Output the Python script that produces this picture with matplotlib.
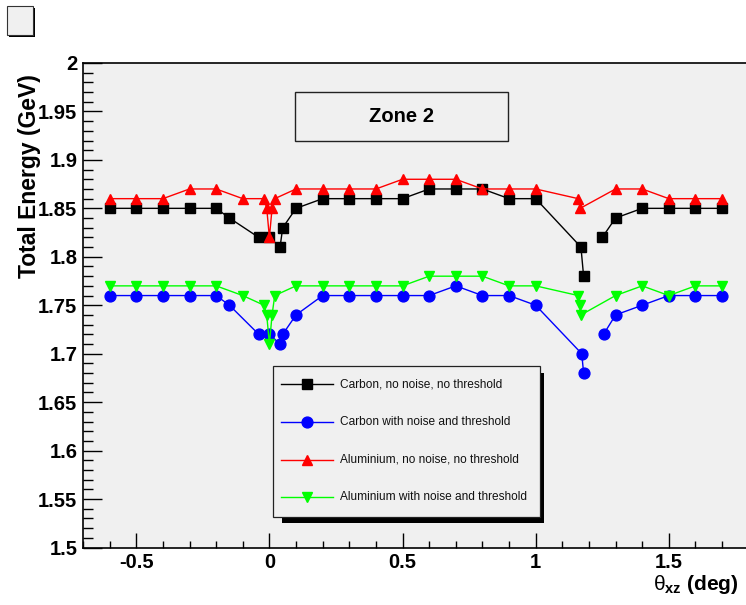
import numpy as np
import matplotlib
matplotlib.use("Agg")
import matplotlib.pyplot as plt
from matplotlib.patches import Rectangle
from matplotlib.lines import Line2D
from matplotlib.ticker import MultipleLocator, FormatStrFormatter

plt.rcParams['font.family'] = ['Liberation Sans', 'DejaVu Sans']
plt.rcParams['mathtext.fontset'] = 'custom'
plt.rcParams['mathtext.rm'] = 'Liberation Sans'
plt.rcParams['mathtext.bf'] = 'Liberation Sans:bold'
plt.rcParams['mathtext.it'] = 'Liberation Sans:italic'

# ---- data ----
carbon_x = [-0.6, -0.5, -0.4, -0.3, -0.2, -0.15, -0.04, 0.0, 0.04, 0.05, 0.1, 0.2, 0.3, 0.4,
            0.5, 0.6, 0.7, 0.8, 0.9, 1.0, 1.17, 1.18, 1.25, 1.3, 1.4, 1.5, 1.6, 1.7]
carbon_y = [1.85, 1.85, 1.85, 1.85, 1.85, 1.84, 1.82, 1.82, 1.81, 1.83, 1.85, 1.86, 1.86, 1.86,
            1.86, 1.87, 1.87, 1.87, 1.86, 1.86, 1.81, 1.78, 1.82, 1.84, 1.85, 1.85, 1.85, 1.85]
carbon_noise_y = [1.76, 1.76, 1.76, 1.76, 1.76, 1.75, 1.72, 1.72, 1.71, 1.72, 1.74, 1.76, 1.76, 1.76,
                  1.76, 1.76, 1.77, 1.76, 1.76, 1.75, 1.70, 1.68, 1.72, 1.74, 1.75, 1.76, 1.76, 1.76]
carbon_noise_x = [-0.6, -0.5, -0.4, -0.3, -0.2, -0.15, -0.04, 0.0, 0.04, 0.05, 0.1, 0.2, 0.3, 0.4,
                  0.5, 0.6, 0.7, 0.8, 0.9, 1.0, 1.173, 1.18, 1.255, 1.3, 1.4, 1.5, 1.6, 1.7]
carbon_gap = 22  # the carbon curves are not joined between 1.18 and 1.25

alu_x = [-0.6, -0.5, -0.4, -0.3, -0.2, -0.1, -0.02, -0.01, 0.0, 0.01, 0.02, 0.1, 0.2, 0.3,
         0.4, 0.5, 0.6, 0.7, 0.8, 0.9, 1.0, 1.16, 1.167, 1.3, 1.4, 1.5, 1.6, 1.7]
alu_y = [1.86, 1.86, 1.86, 1.87, 1.87, 1.86, 1.86, 1.85, 1.82, 1.85, 1.86, 1.87, 1.87, 1.87,
         1.87, 1.88, 1.88, 1.88, 1.87, 1.87, 1.87, 1.86, 1.85, 1.87, 1.87, 1.86, 1.86, 1.86]
alu_noise_x = [-0.6, -0.5, -0.4, -0.3, -0.2, -0.1, -0.02, -0.01, 0.0, 0.01, 0.02, 0.1, 0.2, 0.3,
               0.4, 0.5, 0.6, 0.7, 0.8, 0.9, 1.0, 1.16, 1.165, 1.17, 1.3, 1.4, 1.5, 1.6, 1.7]
alu_noise_y = [1.77, 1.77, 1.77, 1.77, 1.77, 1.76, 1.75, 1.74, 1.71, 1.74, 1.76, 1.77, 1.77, 1.77,
               1.77, 1.77, 1.78, 1.78, 1.78, 1.77, 1.77, 1.76, 1.75, 1.74, 1.76, 1.77, 1.76, 1.77, 1.77]

labels = ["Carbon, no noise, no threshold",
          "Carbon with noise and threshold",
          "Aluminium, no noise, no threshold",
          "Aluminium with noise and threshold"]
colors = ["black", "#0000ff", "#ff0000", "#00ff00"]
markers = ["s", "o", "^", "v"]
msizes = [6.8, 7.8, 7.8, 7.8]

W, H = 746, 605
BG = "#f0f0f0"


def fx(x):
    return x / W


def fy(y):
    return 1 - y / H


fig = plt.figure(figsize=(W / 100, H / 100), dpi=100)
fig.patch.set_facecolor("white")
ax = fig.add_axes([fx(83), fy(547.5), fx(748.7) - fx(83), fy(63) - fy(547.5)])
ax.set_facecolor(BG)

series = [
    (carbon_x, carbon_y, carbon_gap),
    (carbon_noise_x, carbon_noise_y, carbon_gap),
    (alu_x, alu_y, None),
    (alu_noise_x, alu_noise_y, None),
]
for (xs, ys, gap), c, m, ms in zip(series, colors, markers, msizes):
    parts = [(xs, ys)] if gap is None else [(xs[:gap], ys[:gap]), (xs[gap:], ys[gap:])]
    for px, py in parts:
        ax.plot(px, py, color=c, lw=1.0, marker=m, ms=ms, mec=c, mfc=c, clip_on=False)

ax.set_xlim(-0.7, 1.8)
ax.set_ylim(1.5, 2.0)
ax.xaxis.set_major_locator(MultipleLocator(0.5))
ax.xaxis.set_minor_locator(MultipleLocator(0.1))
ax.yaxis.set_major_locator(MultipleLocator(0.05))
ax.yaxis.set_minor_locator(MultipleLocator(0.01))
ax.xaxis.set_major_formatter(FormatStrFormatter("%g"))
ax.yaxis.set_major_formatter(FormatStrFormatter("%g"))
ax.tick_params(axis="x", which="major", direction="in", length=10.8, width=1.0, pad=4,
               labelsize=14.5)
ax.tick_params(axis="x", which="minor", direction="in", length=5, width=1.0)
ax.tick_params(axis="y", which="major", direction="in", length=13.7, width=1.0, pad=4,
               labelsize=14.5)
ax.tick_params(axis="y", which="minor", direction="in", length=7.2, width=1.0)
for t in ax.get_xticklabels() + ax.get_yticklabels():
    t.set_fontweight("bold")
for s in ["left", "top", "bottom"]:
    ax.spines[s].set_linewidth(1.2)
ax.spines["right"].set_visible(False)

fig.text(fx(30), fy(176.5), "Total Energy (GeV)", rotation=90, ha="center", va="center",
         fontsize=16.5, fontweight="bold")
fig.text(fx(739), fy(585), r"$\mathrm{\theta}_{\mathbf{xz}}$ (deg)", ha="right", va="center",
         fontsize=15, fontweight="bold")

# "Zone 2" pave
fig.add_artist(Rectangle((fx(295.3), fy(141)), fx(508.3) - fx(295.3), fy(92.3) - fy(141),
                         transform=fig.transFigure, facecolor=BG, edgecolor="#222222", lw=1.0))
fig.text(fx(401.8), fy(116.7), "Zone 2", ha="center", va="center", fontsize=14.5,
         fontweight="bold")

# empty title box at top left
fig.add_artist(Rectangle((fx(9), fy(37)), fx(26), fy(0) - fy(29), transform=fig.transFigure,
                         facecolor="black", edgecolor="none"))
fig.add_artist(Rectangle((fx(7), fy(35)), fx(26), fy(0) - fy(29), transform=fig.transFigure,
                         facecolor=BG, edgecolor="#333333", lw=0.8))

# legend drawn by hand, ROOT style with shadow
fig.add_artist(Rectangle((fx(281.7), fy(522.7)), fx(544) - fx(281.7), fy(373) - fy(522.7),
                         transform=fig.transFigure, facecolor="black", edgecolor="none"))
fig.add_artist(Rectangle((fx(273.3), fy(516.7)), fx(540) - fx(273.3), fy(365.7) - fy(516.7),
                         transform=fig.transFigure, facecolor=BG, edgecolor="#222222", lw=0.9))
rows = [384.3, 422.3, 460, 497.3]
for row, lab, c, m, ms in zip(rows, labels, colors, markers, msizes):
    fig.add_artist(Line2D([fx(280.7), fx(333.3)], [fy(row), fy(row)], color=c, lw=1.0,
                          transform=fig.transFigure))
    fig.add_artist(Line2D([fx(307.3)], [fy(row)], color=c, marker=m, ms=ms, mfc=c, mec=c,
                          transform=fig.transFigure))
    fig.text(fx(340), fy(row), lab, ha="left", va="center", fontsize=8.6, color="#111111")

fig.savefig("out.png", dpi=100)
